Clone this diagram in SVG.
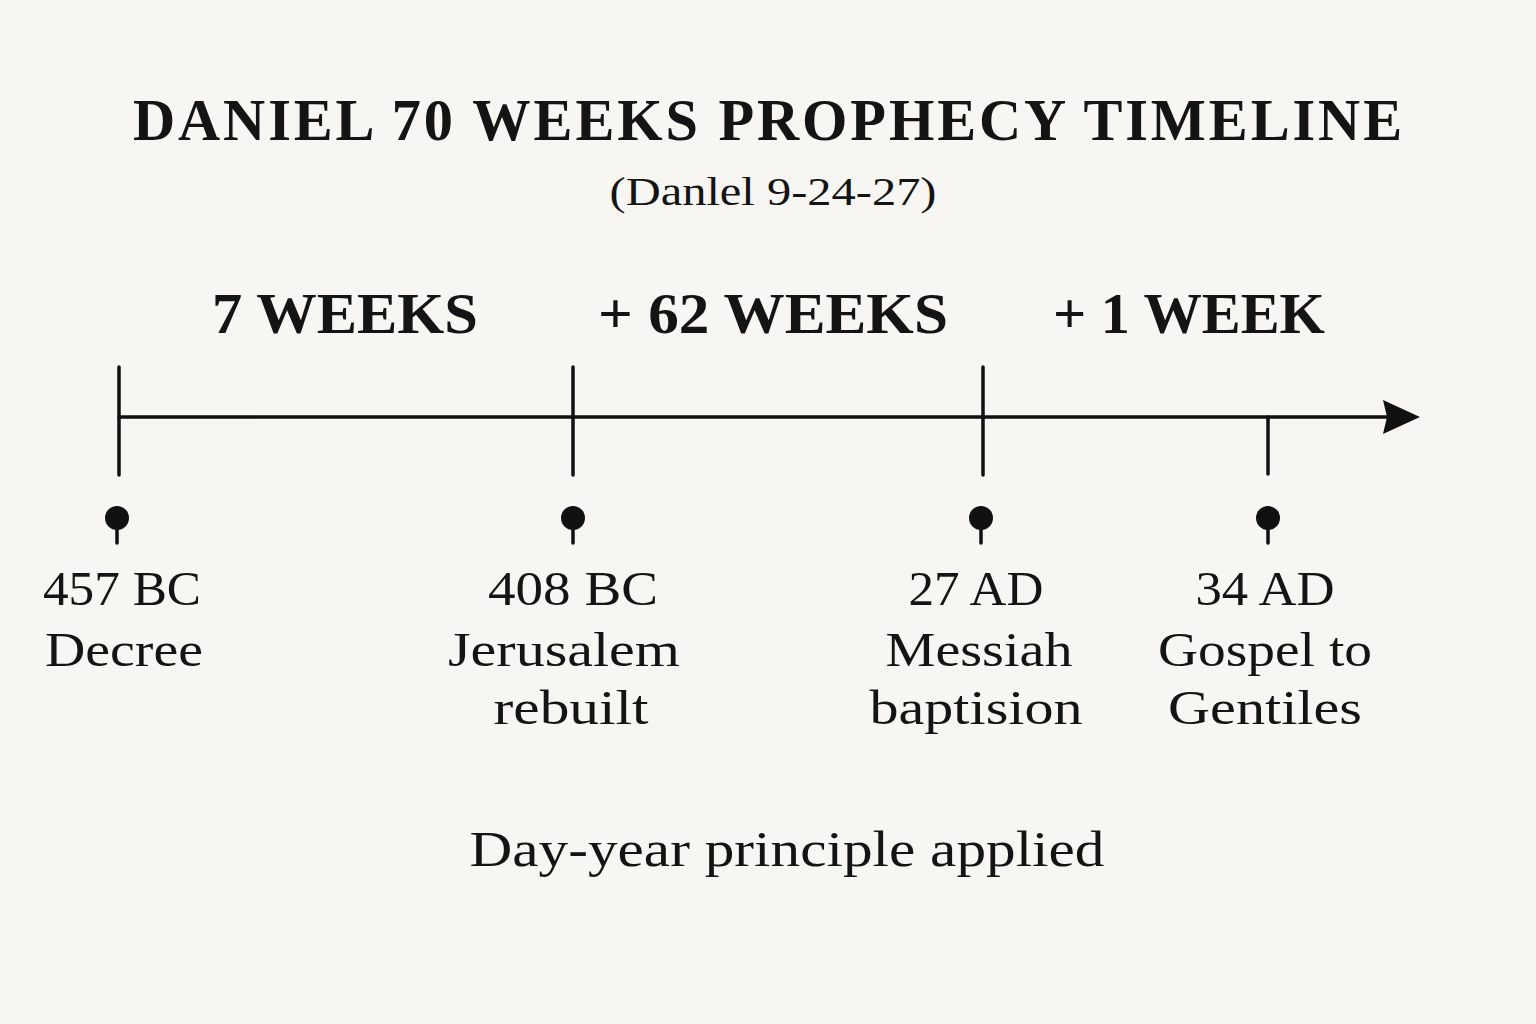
<svg xmlns="http://www.w3.org/2000/svg" width="1536" height="1024" viewBox="0 0 1536 1024">
<defs>
<style>
.t{font-family:"Liberation Serif","DejaVu Serif",serif;fill:#141414}
.title{font-size:60px;font-weight:bold;letter-spacing:3px}
.sub{font-size:40px}
.seg{font-size:58px;font-weight:bold}
.lbl{font-size:48px}
.foot{font-size:50px}
.tick{stroke:#111;stroke-width:3.5;stroke-linecap:round}
.pin{fill:#111}
</style>
<marker id="arr" markerWidth="40" markerHeight="34" refX="17" refY="17" orient="auto" markerUnits="userSpaceOnUse">
<path d="M0,0 L37,17 L0,34 L4,17 Z" fill="#111"/>
</marker>
</defs>
<rect width="1536" height="1024" fill="#f8f6f2"/>
<g id="title">
<text class="t title" x="769" y="140" text-anchor="middle" textLength="1272" lengthAdjust="spacingAndGlyphs">DANIEL 70 WEEKS PROPHECY TIMELINE</text>
<text class="t sub" x="773" y="205" text-anchor="middle" textLength="327" lengthAdjust="spacingAndGlyphs">(Danlel 9-24-27)</text>
</g>
<g id="segments">
<text class="t seg" x="345" y="333" text-anchor="middle" textLength="266" lengthAdjust="spacingAndGlyphs">7 WEEKS</text>
<text class="t seg" x="773" y="333" text-anchor="middle" textLength="350" lengthAdjust="spacingAndGlyphs">+ 62 WEEKS</text>
<text class="t seg" x="1189" y="333" text-anchor="middle" textLength="272" lengthAdjust="spacingAndGlyphs">+ 1 WEEK</text>
</g>
<g id="connectors">
<line class="tick" x1="119" y1="417" x2="1400" y2="417" marker-end="url(#arr)"/>
<line class="tick" x1="119" y1="367" x2="119" y2="475"/>
<line class="tick" x1="573" y1="367" x2="573" y2="475"/>
<line class="tick" x1="983" y1="367" x2="983" y2="475"/>
<line class="tick" x1="1268" y1="417" x2="1268" y2="474"/>
</g>
<g id="node-457">
<circle class="pin" cx="117" cy="518" r="12"/>
<line class="tick" x1="117" y1="526" x2="117" y2="543"/>
<text class="t lbl" x="122" y="605" text-anchor="middle" textLength="158" lengthAdjust="spacingAndGlyphs">457 BC</text>
<text class="t lbl" x="124" y="666" text-anchor="middle" textLength="158" lengthAdjust="spacingAndGlyphs">Decree</text>
</g>
<g id="node-408">
<circle class="pin" cx="573" cy="518" r="12"/>
<line class="tick" x1="573" y1="526" x2="573" y2="543"/>
<text class="t lbl" x="573" y="605" text-anchor="middle" textLength="170" lengthAdjust="spacingAndGlyphs">408 BC</text>
<text class="t lbl" x="564" y="666" text-anchor="middle" textLength="232" lengthAdjust="spacingAndGlyphs">Jerusalem</text>
<text class="t lbl" x="571" y="724" text-anchor="middle" textLength="155" lengthAdjust="spacingAndGlyphs">rebuilt</text>
</g>
<g id="node-27">
<circle class="pin" cx="981" cy="518" r="12"/>
<line class="tick" x1="981" y1="526" x2="981" y2="543"/>
<text class="t lbl" x="976" y="605" text-anchor="middle" textLength="135" lengthAdjust="spacingAndGlyphs">27 AD</text>
<text class="t lbl" x="979" y="666" text-anchor="middle" textLength="187" lengthAdjust="spacingAndGlyphs">Messiah</text>
<text class="t lbl" x="976" y="724" text-anchor="middle" textLength="213" lengthAdjust="spacingAndGlyphs">baptision</text>
</g>
<g id="node-34">
<circle class="pin" cx="1268" cy="518" r="12"/>
<line class="tick" x1="1268" y1="526" x2="1268" y2="543"/>
<text class="t lbl" x="1265" y="605" text-anchor="middle" textLength="139" lengthAdjust="spacingAndGlyphs">34 AD</text>
<text class="t lbl" x="1265" y="666" text-anchor="middle" textLength="214" lengthAdjust="spacingAndGlyphs">Gospel to</text>
<text class="t lbl" x="1265" y="724" text-anchor="middle" textLength="194" lengthAdjust="spacingAndGlyphs">Gentiles</text>
</g>
<g id="footer">
<text class="t foot" x="787" y="866" text-anchor="middle" textLength="635" lengthAdjust="spacingAndGlyphs">Day-year principle applied</text>
</g>
</svg>
